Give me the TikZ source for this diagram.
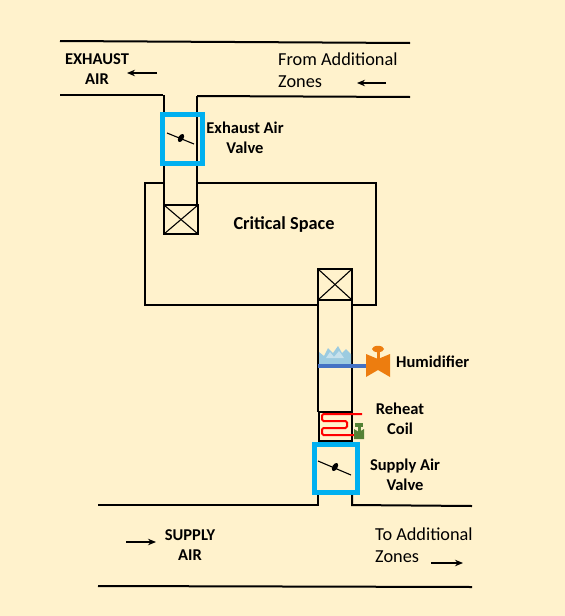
\documentclass[tikz,border=0pt]{standalone}
\usepackage{fontspec}
\setmainfont{Carlito}
\usepackage{tikz}
\usetikzlibrary{arrows.meta, positioning}
\definecolor{paperCream}{HTML}{FFF2CC}
\definecolor{valveBlue}{HTML}{00B0F0}
\definecolor{barBlue}{HTML}{4472C4}
\definecolor{humidOrange}{HTML}{ED7D0F}
\definecolor{valveGreen}{HTML}{548235}
\definecolor{waterBlue}{HTML}{9CCBE0}
\begin{document}
\begin{tikzpicture}[x=1pt, y=-1pt,
        duct/.style={line width=2pt, black},
        slimduct/.style={line width=1.3pt, black},
        box/.style={draw=black, line width=2pt, fill=none, inner sep=0pt, outer sep=0pt, anchor=north west},
        valve/.style={draw=valveBlue, line width=5pt, fill=none, inner sep=0pt, outer sep=0pt, anchor=north west},
        thinline/.style={line width=1.1pt, black},
        arrow/.style={-{Stealth[length=8pt,width=6.5pt]}, line width=1.2pt, black},
        label/.style={font=\fontsize{16.5}{20}\selectfont\bfseries, align=center, inner sep=0pt},
        plain/.style={font=\fontsize{18.3}{22}\selectfont, align=left, inner sep=0pt}
      ]
        \useasboundingbox[fill=paperCream] (0,0) rectangle (565,616);
        % ducts
        \draw[duct] (60,41) -- (410,43);
        \draw[duct] (60,95) -- (163,95);
        \draw[slimduct] (164,95) -- (164,205);
        \draw[duct] (410,97) -- (197,96);
        \draw[slimduct] (197,96) -- (197,205);
        \draw[duct] (318,300) -- (318,412);
        \draw[duct] (352,300) -- (352,412);
        \draw[duct] (98,505) -- (318,505) -- (318,492);
        \draw[duct] (472,506) -- (352,505) -- (352,492);
        \draw[duct] (98,586) -- (472,587);
        % room
        \draw[duct] (164,183) -- (145,183) -- (145,305) -- (318,305);
        \draw[duct] (197,183) -- (376,183) -- (376,305) -- (352,305);
        % terminal boxes
        \node[box, minimum width=34pt, minimum height=29pt] (outlet) at (164,205) {};
        \draw[thinline] (outlet.north west) -- (outlet.south east);
        \draw[thinline] (outlet.north east) -- (outlet.south west);
        \node[box, minimum width=34pt, minimum height=31pt] (inlet) at (318,269) {};
        \draw[thinline] (inlet.north west) -- (inlet.south east);
        \draw[thinline] (inlet.north east) -- (inlet.south west);
        % humidifier
        \fill[waterBlue] (319,364) -- (319,352) -- (324,356) -- (328,348) -- (333,353) -- (338,346) -- (342,353) -- (346,349) -- (351,354) -- (351,364) -- cycle;
        \fill[white, opacity=0.45] (326,358) -- (330,352) -- (334,357) -- (339,351) -- (344,358) -- cycle;
        \draw[barBlue, line width=3.5pt] (318,366) -- (366,366);
        \fill[humidOrange] (366,354) -- (378,359) -- (390,354) -- (390,377) -- (378,370) -- (366,377) -- cycle;
        \fill[humidOrange] (376.5,350) rectangle (379.5,360);
        \fill[humidOrange] (378,349) ellipse (6pt and 3.2pt);
        % reheat coil
        \node[box, minimum width=33pt, minimum height=29pt] (coil) at (319,412) {};
        \draw[red, line width=2pt, rounded corners=1.5pt] (362,414) -- (322,414) -- (322,421) -- (347,421) -- (347,428) -- (322,428) -- (322,435) -- (362,435);
        \fill[valveGreen] (354,429) -- (359,432) -- (364,429) -- (364,439) -- (354,439) -- cycle;
        \fill[valveGreen] (357.5,424) rectangle (360.5,434);
        \fill[valveGreen] (355,423) rectangle (363,426.5);
        % valves
        \node[valve, minimum width=40pt, minimum height=49pt] (exhaustValve) at (162,114) {};
        \draw[thinline] (167,133) -- (194,144);
        \fill[black, rotate around={60:(181,138)}] (181,138) ellipse (4.5pt and 2.6pt);
        \node[valve, minimum width=43pt, minimum height=48pt] (supplyValve) at (314,444) {};
        \draw[thinline] (318,461) -- (351,475);
        \fill[black, rotate around={60:(335,467)}] (335,467) ellipse (4.5pt and 2.6pt);
        % labels
        \node[label] (exhaustAir) at (97,69) {EXHAUST\\AIR};
        \node[plain, anchor=west] (fromZones) at (278,70) {From Additional\\Zones};
        \node[label] (exhaustLbl) at (245,138) {Exhaust Air\\Valve};
        \node[label, font=\fontsize{18.3}{22}\selectfont\bfseries] (criticalLbl) at (284,225) {Critical Space};
        \node[label, anchor=west] (humidLbl) at (396,362) {Humidifier};
        \node[label] (reheatLbl) at (400,419) {Reheat\\Coil};
        \node[label] (supplyLbl) at (405,475) {Supply Air\\Valve};
        \node[label] (supplyAir) at (190,545) {SUPPLY\\AIR};
        \node[plain, anchor=west] (toZones) at (375,545) {To Additional\\Zones};
        % flow arrows
        \coordinate (a1s) at (157,73); \coordinate (a1e) at (127,73);
        \coordinate (a2s) at (386,83); \coordinate (a2e) at (357,83);
        \coordinate (a3s) at (126,542); \coordinate (a3e) at (156,542);
        \coordinate (a4s) at (431,563); \coordinate (a4e) at (463,563);
        \draw[arrow] (a1s) -- (a1e);
        \draw[arrow] (a2s) -- (a2e);
        \draw[arrow] (a3s) -- (a3e);
        \draw[arrow] (a4s) -- (a4e);
      \end{tikzpicture}
\end{document}
